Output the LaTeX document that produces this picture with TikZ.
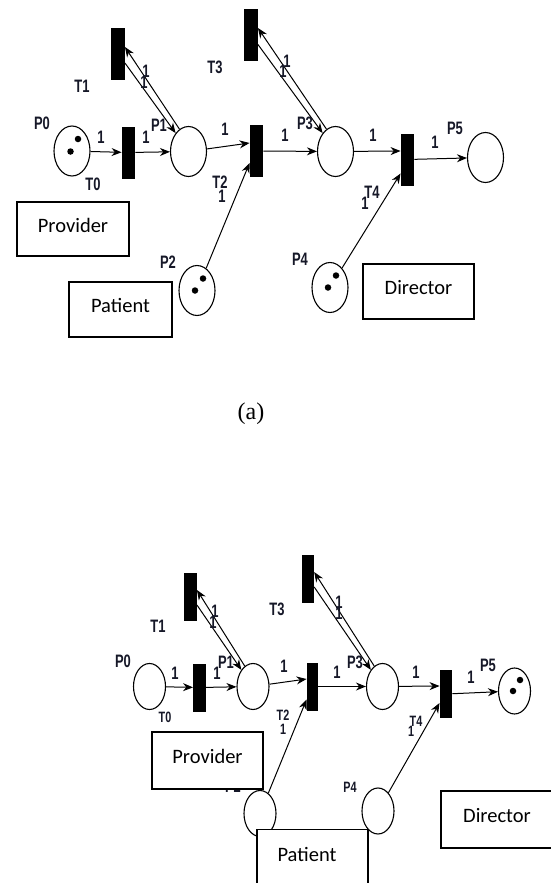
\documentclass[tikz,border=0pt]{standalone}
\usepackage{fontspec}
\usetikzlibrary{shapes.geometric,arrows.meta,calc}
\newfontfamily\lblfont[FakeStretch=0.72]{Liberation Sans}
\newfontfamily\boxfont{Carlito}
\newfontfamily\capfont{Liberation Serif}
\definecolor{ink}{RGB}{22,24,40}

\tikzset{
  place/.style={ellipse, draw, line width=1.1pt, inner sep=0pt, minimum width=36pt, minimum height=50pt},
  splace/.style={place, minimum width=32pt, minimum height=46pt},
  trans/.style={rectangle, fill=black, inner sep=0pt, minimum width=13.5pt, minimum height=52pt},
  strans/.style={trans, minimum width=12.5pt, minimum height=48pt},
  token/.style={circle, fill=black, inner sep=0pt, minimum size=6.5pt},
  arc/.style={line width=1pt, -{Stealth[length=10pt,width=8pt]}},
  lbl/.style={inner sep=0pt, text=ink, font=\lblfont\bfseries\fontsize{18pt}{18pt}\selectfont},
  slbl/.style={lbl, font=\lblfont\bfseries\fontsize{15pt}{15pt}\selectfont},
  role/.style={draw, fill=white, line width=1.2pt, inner sep=0pt, text depth=8pt,
    font=\boxfont\fontsize{20.5pt}{20.5pt}\selectfont},
  roletext/.style={inner sep=0pt, font=\boxfont\fontsize{20.5pt}{20.5pt}\selectfont},
}

\begin{document}
\begin{tikzpicture}[x=1pt, y=-1pt]
\useasboundingbox[fill=white] (0,0) rectangle (550,883);

% ---------------- net (a) ----------------
\node[place] (P0) at (72,151) {};
\node[place] (P1) at (188.5,151.5) {};
\node[place] (P2) at (197,290.5) {};
\node[place] (P3) at (335.5,151.5) {};
\node[place] (P4) at (330,287.5) {};
\node[place] (P5) at (485.5,157.5) {};
\node[trans] (T0) at (128.5,152.5) {};
\node[trans] (T1) at (118,54) {};
\node[trans] (T2) at (256.5,151) {};
\node[trans] (T3) at (251,35.5) {};
\node[trans] (T4) at (407.5,159.5) {};

% marking
\node[token] (P0k1) at ($(P0)+(6,-12)$) {};
\node[token] (P0k2) at ($(P0)+(-1.5,0.5)$) {};
\node[token] (P2k1) at ($(P2)+(6,-12)$) {};
\node[token] (P2k2) at ($(P2)+(-2,0)$) {};
\node[token] (P4k1) at ($(P4)+(6,-12)$) {};
\node[token] (P4k2) at ($(P4)+(-2,0)$) {};

% arcs
\draw[arc] (P0) -- (T0);
\draw[arc] (T0) -- (P1);
\draw[arc] (P1.112) -- ([yshift=7pt]T1.east);
\draw[arc] ([yshift=-9pt]T1.east) -- (P1.125);
\draw[arc] (P1) -- ([yshift=8pt]T2.west);
\draw[arc] (P2) -- ([yshift=-12pt]T2.west);
\draw[arc] (T2) -- (P3);
\draw[arc] (P3.112) -- ([yshift=7.5pt]T3.east);
\draw[arc] ([yshift=-9pt]T3.east) -- (P3.125);
\draw[arc] (P3) -- ([yshift=8.5pt]T4.west);
\draw[arc] (P4) -- ([yshift=-14pt]T4.west);
\draw[arc] (T4) -- (P5);

% names
\node[lbl] (lP0) at (42,123) {P0};
\node[lbl] (lP1) at (159,125) {P1};
\node[lbl] (lP2) at (168,262) {P2};
\node[lbl] (lP3) at (305,123) {P3};
\node[lbl] (lP4) at (300,259) {P4};
\node[lbl] (lP5) at (455,128) {P5};
\node[lbl] (lT0) at (93,184) {T0};
\node[lbl] (lT1) at (82,86) {T1};
\node[lbl] (lT2) at (220,182) {T2};
\node[lbl] (lT3) at (215,67) {T3};
\node[lbl] (lT4) at (372,192) {T4};

% weights
\node[lbl] (w1) at (101,137) {1};
\node[lbl] (w2) at (146,137) {1};
\node[lbl] (w3) at (146,71) {1};
\node[lbl] (w4) at (144,82) {1};
\node[lbl] (w5) at (225,129) {1};
\node[lbl] (w6) at (222,196) {1};
\node[lbl] (w7) at (285,135) {1};
\node[lbl] (w8) at (287,61) {1};
\node[lbl] (w9) at (283,71) {1};
\node[lbl] (w10) at (373,135) {1};
\node[lbl] (w11) at (435,142) {1};
\node[lbl] (w12) at (365,203) {1};

% roles
\node[role, minimum width=112pt, minimum height=54pt] (provA) at (73,229) {Provider};
\node[role, minimum width=103pt, minimum height=55pt] (patA) at (120.5,309.5) {Patient};
\node[role, minimum width=111pt, minimum height=55pt] (dirA) at (418.5,291.5) {Director};

\node[inner sep=0pt, font=\capfont\fontsize{24pt}{24pt}\selectfont] (capA) at (251,414) {(a)};

% ---------------- net (b) ----------------
\node[splace] (Q0) at (149.5,686.5) {};
\node[splace] (Q1) at (253,686.5) {};
\node[splace] (Q2) at (260,813.5) {};
\node[splace] (Q3) at (382.5,686.5) {};
\node[splace] (Q4) at (378,811) {};
\node[splace] (Q5) at (514.5,691) {};
\node[strans] (U0) at (199.5,687.5) {};
\node[strans] (U1) at (190.5,596.5) {};
\node[strans, minimum width=11.5pt] (U2) at (312.5,686.5) {};
\node[strans, minimum width=12pt] (U3) at (308,579) {};
\node[strans] (U4) at (446,694) {};

\node[token] (Q5k1) at ($(Q5)+(5.5,-11)$) {};
\node[token] (Q5k2) at ($(Q5)+(-1.5,0)$) {};

\draw[arc] (Q0) -- (U0);
\draw[arc] (U0) -- (Q1);
\draw[arc] (Q1.112) -- ([yshift=6.5pt]U1.east);
\draw[arc] ([yshift=-8.5pt]U1.east) -- (Q1.125);
\draw[arc] (Q1) -- ([yshift=7.5pt]U2.west);
\draw[arc] (Q2) -- ([yshift=-13pt]U2.west);
\draw[arc] (U2) -- (Q3);
\draw[arc] (Q3.112) -- ([yshift=7pt]U3.east);
\draw[arc] ([yshift=-8pt]U3.east) -- (Q3.125);
\draw[arc] (Q3) -- ([yshift=8pt]U4.west);
\draw[arc] (Q4) -- ([yshift=-9pt]U4.west);
\draw[arc] (U4) -- (Q5);

\node[lbl] (lQ0) at (123,661) {P0};
\node[lbl] (lQ1) at (226,662) {P1};
\node[lbl] (lQ2) at (233,786) {P2};
\node[lbl] (lQ3) at (355,662) {P3};
\node[slbl] (lQ4) at (350,787) {P4};
\node[lbl] (lQ5) at (488,665) {P5};
\node[slbl] (lU0) at (165,717) {T0};
\node[lbl] (lU1) at (158,626) {T1};
\node[slbl] (lU2) at (283,715) {T2};
\node[lbl] (lU3) at (277,609) {T3};
\node[slbl] (lU4) at (416,721) {T4};

\node[lbl] (v1) at (175,673) {1};
\node[lbl] (v2) at (217,673) {1};
\node[lbl] (v3) at (215,611) {1};
\node[lbl] (v4) at (213,622) {1};
\node[lbl] (v5) at (284,666) {1};
\node[lbl] (v6) at (337,672) {1};
\node[lbl] (v7) at (339,602) {1};
\node[lbl] (v8) at (339,613) {1};
\node[lbl] (v9) at (416,672) {1};
\node[lbl] (v10) at (471,677) {1};
\node[slbl] (v11) at (283,729) {1};
\node[slbl] (v12) at (411,731) {1};

\node[role, minimum width=111pt, minimum height=57pt] (provB) at (207.5,760.5) {Provider};
\node[role, minimum width=111pt, minimum height=60pt, anchor=north] (patB) at (312.5,829) {};
\node[roletext] (patBt) at (307,854) {Patient};
\node[role, minimum width=112pt, minimum height=57pt] (dirB) at (497,819.5) {Director};
\end{tikzpicture}
\end{document}
